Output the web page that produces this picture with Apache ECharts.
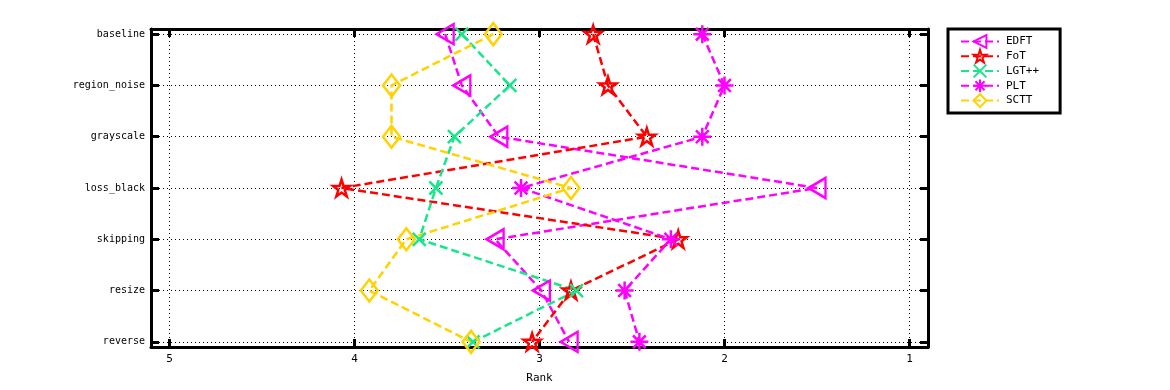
<!DOCTYPE html>
<html>
<head>
<meta charset="utf-8">
<script src="https://cdn.jsdelivr.net/npm/echarts@6/dist/echarts.min.js"></script>
<style>
  html, body { margin: 0; padding: 0; background: #fff; }
  #chart { width: 1170px; height: 390px; }
</style>
</head>
<body>
<div id="chart"></div>
<script>
const categories = ["baseline", "region_noise", "grayscale", "loss_black", "skipping", "resize", "reverse"];
const rankTicks = [1, 2, 3, 4, 5];

const edft = [3.51, 3.42, 3.22, 1.50, 3.24, 2.99, 2.84];
const fot = [2.71, 2.63, 2.42, 4.07, 2.25, 2.83, 3.04];
const lgt = [3.42, 3.16, 3.46, 3.56, 3.65, 2.80, 3.36];
const plt = [2.12, 2.00, 2.12, 3.10, 2.29, 2.54, 2.46];
const sctt = [3.25, 3.80, 3.80, 2.83, 3.72, 3.92, 3.37];

const STAR = "path://M0,-1L0.2245,-0.309L0.951,-0.309L0.363,0.118L0.588,0.809L0,0.382L-0.588,0.809L-0.363,0.118L-0.951,-0.309L-0.2245,-0.309Z";
const ASTER = "path://M0,-1L0,1M-1,0L1,0M-0.707,-0.707L0.707,0.707M-0.707,0.707L0.707,-0.707";
const CROSS = "path://M-1,-1L1,1M-1,1L1,-1";
const TRI_LEFT = "path://M-1,0L1,-1L1,1Z";
const DIAMOND = "path://M0,-1L1,0L0,1L-1,0Z";

const FONT = "DejaVu Sans Mono";

function makeSeries(name, values, color, symbol, size) {
  return {
    name,
    type: "line",
    data: values.map((v, i) => [v, i]),
    color,
    symbol,
    symbolSize: size,
    showAllSymbol: true,
    lineStyle: { color, width: 2.5, type: [8, 4] },
    itemStyle: { color: "rgba(0,0,0,0)", borderColor: color, borderWidth: 2.5 },
    emphasis: { disabled: true },
    animation: false
  };
}

const chart = echarts.init(document.getElementById("chart"));

const xBase = {
  type: "value",
  min: 0.9,
  max: 5.1,
  inverse: true,
  axisLine: { show: true, onZero: false, lineStyle: { color: "#000", width: 3 } },
  axisTick: { show: true, inside: true, length: 8, lineStyle: { color: "#000", width: 3 }, customValues: rankTicks }
};
const yBase = {
  type: "value",
  min: -0.1,
  max: 6.1,
  inverse: true,
  axisLine: { show: true, onZero: false, lineStyle: { color: "#000", width: 3 } },
  axisTick: { show: true, inside: true, length: 8, lineStyle: { color: "#000", width: 3 }, customValues: categories.map((c, i) => i) }
};

const option = {
  backgroundColor: "#fff",
  animation: false,
  grid: { left: 151, right: 242, top: 29, bottom: 43 },
  legend: {
    orient: "vertical",
    left: 948,
    top: 29,
    padding: [5, 21, 5, 12],
    itemWidth: 38,
    itemHeight: 16,
    itemGap: 0,
    borderColor: "#000",
    borderWidth: 3,
    textStyle: { fontFamily: FONT, fontSize: 11, color: "#000", padding: [0, 0, 0, 2] },
    data: ["EDFT", "FoT", "LGT++", "PLT", "SCTT"]
  },
  xAxis: [
    Object.assign({}, xBase, {
      position: "bottom",
      name: "Rank",
      nameLocation: "middle",
      nameGap: 26,
      nameTextStyle: { fontFamily: FONT, fontSize: 11, color: "#000" },
      axisLabel: { show: true, customValues: rankTicks, margin: 7, fontFamily: FONT, fontSize: 11, color: "#000" },
      splitLine: { show: true, lineStyle: { color: "#000", width: 1, type: [1, 3] } }
    }),
    Object.assign({}, xBase, {
      position: "top",
      axisLabel: { show: false },
      splitLine: { show: false }
    })
  ],
  yAxis: [
    Object.assign({}, yBase, {
      position: "left",
      axisLabel: {
        show: true,
        customValues: categories.map((c, i) => i),
        formatter: v => categories[Math.round(v)] || "",
        margin: 6,
        fontFamily: FONT,
        fontSize: 10,
        color: "#000"
      },
      splitLine: { show: true, lineStyle: { color: "#000", width: 1, type: [1, 3] } }
    }),
    Object.assign({}, yBase, {
      position: "right",
      axisLabel: { show: false },
      splitLine: { show: false }
    })
  ],
  series: [
    makeSeries("EDFT", edft, "#ff00ff", TRI_LEFT, [17, 20]),
    makeSeries("FoT", fot, "#ff0000", STAR, 17),
    makeSeries("LGT++", lgt, "#19e68c", CROSS, 13),
    makeSeries("PLT", plt, "#ff00ff", ASTER, 18),
    makeSeries("SCTT", sctt, "#ffd200", DIAMOND, [17, 22])
  ]
};

chart.setOption(option);
window.addEventListener("resize", () => chart.resize());
</script>
</body>
</html>
